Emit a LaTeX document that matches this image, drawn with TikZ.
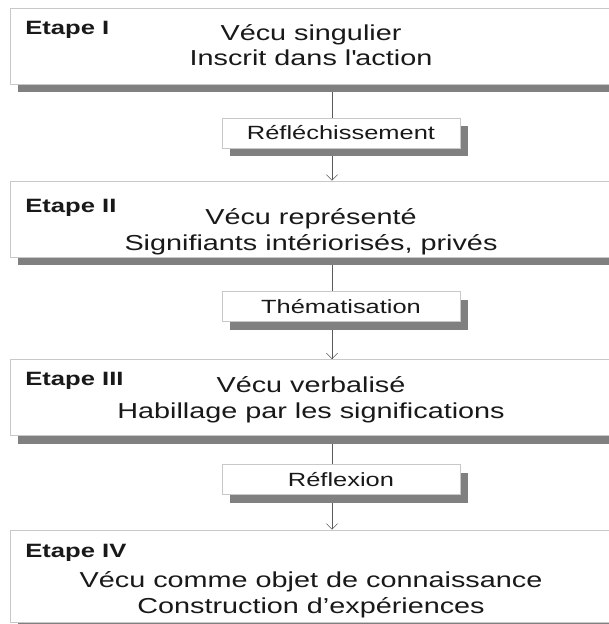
\documentclass[tikz,border=0pt]{standalone}
\usepackage{fontspec}
\setmainfont{Liberation Sans}[FakeStretch=1.33]
\usetikzlibrary{shadows,backgrounds,arrows.meta}
\definecolor{shadowgray}{RGB}{128,128,128}
\definecolor{edgegray}{RGB}{200,200,200}
\definecolor{linegray}{RGB}{90,90,90}

\begin{document}
\begin{tikzpicture}[x=0.025cm, y=-0.025cm,
    every node/.style={inner sep=0pt, text=black!90},
    stage/.style={rectangle, draw=edgegray, fill=white, minimum width=15.375cm, minimum height=1.9cm, drop shadow={shadow xshift=0.21cm, shadow yshift=-0.21cm, fill=shadowgray, opacity=1}},
    passage/.style={rectangle, draw=edgegray, fill=white, minimum width=5.95cm, minimum height=0.75cm, font=\fontsize{13.6}{16}\selectfont, drop shadow={shadow xshift=0.21cm, shadow yshift=-0.21cm, fill=shadowgray, opacity=1}},
    tag/.style={anchor=base west, font=\fontsize{13.7}{16}\selectfont\bfseries},
    content/.style={anchor=base, align=center, font=\fontsize{15.4}{17.8}\selectfont},
    flow/.style={draw=linegray, -{Straight Barb[length=4pt,width=8pt]}}]

\useasboundingbox (0,0) rectangle (609,624);
\coordinate (axis) at (332,0);

% Etape I
\node[stage] (stage1) at (317.5,46) {};
\node[tag] (tag1) at (25,35) {Etape I};
\node[content] (text1) at (311,66) {Vécu singulier\\Inscrit dans l\textquotesingle action};

% Réfléchissement
\node[passage] (pass1) at (341,133) {Réfléchissement};

% Etape II
\node[stage] (stage2) at (317.5,219) {};
\node[tag] (tag2) at (25,212) {Etape II};
\node[content] (text2) at (311,250) {Vécu représenté\\Signifiants intériorisés, privés};

% Thématisation
\node[passage] (pass2) at (341,306.5) {Thématisation};

% Etape III
\node[stage] (stage3) at (317.5,397.5) {};
\node[tag] (tag3) at (25,385) {Etape III};
\node[content] (text3) at (311,418) {Vécu verbalisé\\Habillage par les significations};

% Réflexion
\node[passage] (pass3) at (341,479.5) {Réflexion};

% Etape IV
\node[stage, minimum height=2.3cm] (stage4) at (317.5,576) {};
\node[tag] (tag4) at (25,557) {Etape IV};
\node[content] (text4) at (311,613) {Vécu comme objet de connaissance\\Construction d’expériences};

% Arrows
\begin{pgfonlayer}{background}
\draw[linegray] (stage1.south -| axis) -- (pass1.north -| axis);
\draw[flow] (pass1.south -| axis) -- (stage2.north -| axis);
\draw[linegray] (stage2.south -| axis) -- (pass2.north -| axis);
\draw[flow] (pass2.south -| axis) -- (stage3.north -| axis);
\draw[linegray] (stage3.south -| axis) -- (pass3.north -| axis);
\draw[flow] (pass3.south -| axis) -- (stage4.north -| axis);
\end{pgfonlayer}

\end{tikzpicture}
\end{document}
